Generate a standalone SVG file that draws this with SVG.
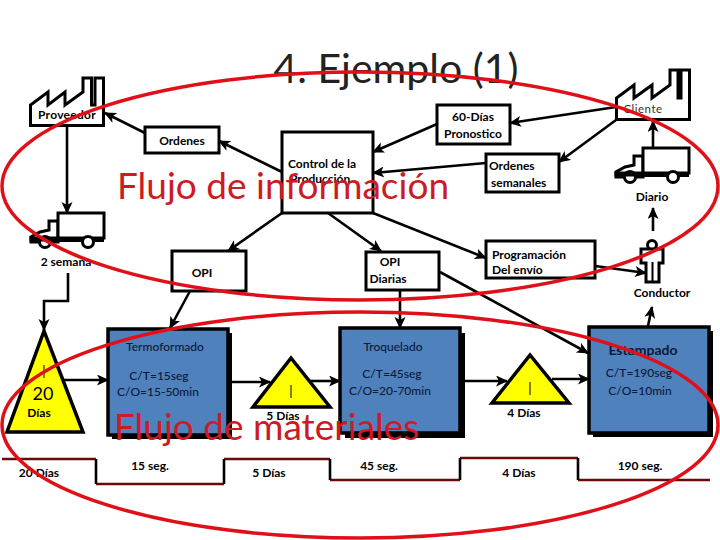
<svg xmlns="http://www.w3.org/2000/svg" width="720" height="540" viewBox="0 0 720 540">
<style>
text{font-family:"Lato","Liberation Sans",sans-serif;font-size:12px;fill:#000;font-weight:700}
.m{text-anchor:middle}
.p{fill:#0b1a3a;font-weight:500}
.box{fill:#fff;stroke:#000;stroke-width:3}
.proc{fill:#4f81bd;stroke:#000;stroke-width:3.500}
.sh{fill:#000}
.tri{fill:#ff0;stroke:#000;stroke-width:3.500;stroke-linejoin:miter}
.ic{fill:#fff;stroke:#000;stroke-width:3}
.c{fill:none;stroke:#000;stroke-width:2.600}
.a{marker-end:url(#ar)}
.tl{fill:none;stroke:#6a0a0a;stroke-width:2.400}
.tv{stroke:#000;stroke-width:2.600}
.thin{stroke:#000;stroke-width:1}
.ring{fill:none;stroke:#e01019;stroke-width:3.500}
.big{fill:#cc1b24;font-size:37px;font-weight:400}
</style>
<defs>
<marker id="ar" markerUnits="userSpaceOnUse" markerWidth="14" markerHeight="12" refX="11" refY="5.500" orient="auto"><path d="M0 0L12 5.500L0 11L3 5.500Z" fill="#000"/></marker>
<g id="truck"><path class="ic" d="M1 30V25L10 20L19 18V9H28V30Z"/><rect class="ic" x="28" y="1" width="46" height="25"/><path d="M22 28H74" stroke="#000" stroke-width="4"/><circle class="ic" cx="15" cy="30" r="5.500"/><circle class="ic" cx="58" cy="30" r="5.500"/><path class="ic" d="M1 28H28V26H1Z"/></g>
</defs>
<rect width="720" height="540" fill="#fff"/>
<text id="title" x="396" y="83" class="m" style="font-size:41px;font-weight:400;fill:#222">4. Ejemplo (1)</text>
<g id="connectors">
<path class="c a" d="M67 126V213"/>
<path class="c a" d="M68 273V301H44V330"/>
<path class="c a" d="M145 133L105 113"/>
<path class="c a" d="M282 172L219 141"/>
<path class="c a" d="M282 213L228 251"/>
<path class="c a" d="M328 213L381 251"/>
<path class="c a" d="M373 213L486 258"/>
<path class="c a" d="M437 124L373 152"/>
<path class="c a" d="M616 107L510 123"/>
<path class="c a" d="M616 120L559 162"/>
<path class="c a" d="M486 163L373 173"/>
<path class="c a" d="M653 148V121"/>
<path class="c a" d="M653 231V208"/>
<path class="c a" d="M595 266L646 273"/>
<path class="c a" d="M648 326L652 307"/>
<path class="c a" d="M190 291L170 328"/>
<path class="c a" d="M400 290V328"/>
<path class="c a" d="M440 272L588 353"/>
<path class="c a" d="M64 380H108"/>
<path class="c a" d="M232 382H270"/>
<path class="c a" d="M310 381H340"/>
<path class="c a" d="M465 381H507"/>
<path class="c a" d="M552 379H589"/>
</g>
<g id="proveedor"><path class="ic" d="M30.500 125.500V105L48 92V105L65 92V105L83 92V78H91.500V105H95V78H103.500V125.500Z"/><text x="67" y="119" class="m" style="letter-spacing:.3px">Proveedor</text></g>
<g id="cliente"><path class="ic" d="M616.500 119.500V98L634 85V98L652 85V98L670 85V70H678V98H681V70H689.500V119.500Z"/><text x="643" y="113" class="m" style="font-weight:400;fill:#333;font-size:11.500px;letter-spacing:.5px">Cliente</text></g>
<g id="truck1"><use href="#truck" x="30" y="212"/><text x="66" y="266" class="m">2 semana</text></g>
<g id="truck2"><use href="#truck" x="615" y="147"/><text x="652" y="201" class="m">Diario</text></g>
<g id="conductor"><circle class="ic" cx="652" cy="245" r="4.500"/><path class="ic" d="M641 263V249H663V263H659V282H646V263Z"/><path d="M652.500 262V282" stroke="#000" stroke-width="2"/><text x="662" y="297" class="m">Conductor</text></g>
<g id="ordenes"><rect class="box" x="145" y="127" width="74" height="26"/><text x="182" y="145" class="m">Ordenes</text></g>
<g id="control"><rect class="box" x="282" y="132" width="91" height="81"/><text x="288" y="168">Control de la</text><text x="290" y="183">Producción</text></g>
<g id="opi1"><rect class="box" x="172" y="251" width="74" height="40"/><text x="202" y="277" class="m">OPI</text></g>
<g id="opi2"><rect class="box" x="366" y="252" width="73" height="38"/><text x="390" y="266" class="m">OPI</text><text x="388" y="283" class="m">Diarias</text></g>
<g id="pronostico"><rect class="box" x="437" y="105" width="73" height="39"/><text x="473" y="121" class="m">60-Días</text><text x="473" y="138" class="m">Pronostico</text></g>
<g id="semanales"><rect class="box" x="486" y="154" width="73" height="38"/><text x="489" y="170">Ordenes</text><text x="491" y="187">semanales</text></g>
<g id="programacion"><rect class="box" x="486" y="241" width="109" height="37"/><text x="492" y="259">Programación</text><text x="492" y="274">Del envío</text></g>
<g id="inv1"><path class="tri" d="M44 331L7 432H83Z"/><path class="thin" d="M44 365V378"/><text x="43" y="400" class="m" style="font-size:18px;font-weight:400">20</text><text x="39" y="417" class="m">Días</text></g>
<g id="termoformado"><rect class="sh" x="112" y="333" width="120" height="106"/><rect class="proc" x="108" y="329" width="120" height="106"/><text x="165" y="351" class="m p">Termoformado</text><text x="159" y="380" class="m p">C/T=15seg</text><text x="158" y="396" class="m p">C/O=15-50min</text></g>
<g id="inv2"><path class="tri" d="M291 358L253 407H330Z"/><path class="thin" d="M291 385V398"/><text x="283" y="420" class="m">5 Días</text></g>
<g id="troquelado"><rect class="sh" x="345" y="333" width="120" height="105"/><rect class="proc" x="340" y="328" width="120" height="105"/><text x="393" y="351" class="m p">Troquelado</text><text x="392" y="378" class="m p">C/T=45seg</text><text x="390" y="395" class="m p">C/O=20-70min</text></g>
<g id="inv3"><path class="tri" d="M530 355L492 403H569Z"/><path class="thin" d="M530 382V395"/><text x="524" y="417" class="m">4 Días</text></g>
<g id="estampado"><rect class="sh" x="593" y="331" width="120" height="106"/><rect class="proc" x="589" y="327" width="120" height="106"/><text x="643" y="355" class="m p" style="font-size:14px;font-weight:700">Estampado</text><text x="639" y="377" class="m p">C/T=190seg</text><text x="640" y="395" class="m p">C/O=10min</text></g>
<g id="timeline"><path class="tl" d="M2 459H96M96 484H224M224 459H330M330 480H460M460 458H578M578 480H710"/><path class="tv" d="M96 459V484M224 459V484M330 459V480M460 458V480M578 458V480"/>
<text x="39" y="477" class="m">20 Días</text><text x="150" y="470" class="m">15 seg.</text><text x="269" y="477" class="m">5 Días</text><text x="379" y="470" class="m">45 seg.</text><text x="519" y="477" class="m">4 Días</text><text x="640" y="470" class="m">190 seg.</text></g>
<text id="flujo1" x="117" y="199" class="big">Flujo de información</text>
<text id="flujo2" x="114" y="440" class="big">Flujo de materiales</text>
<ellipse class="ring" cx="360" cy="186" rx="358" ry="114"/>
<ellipse class="ring" cx="360" cy="425" rx="358" ry="113"/>
</svg>
